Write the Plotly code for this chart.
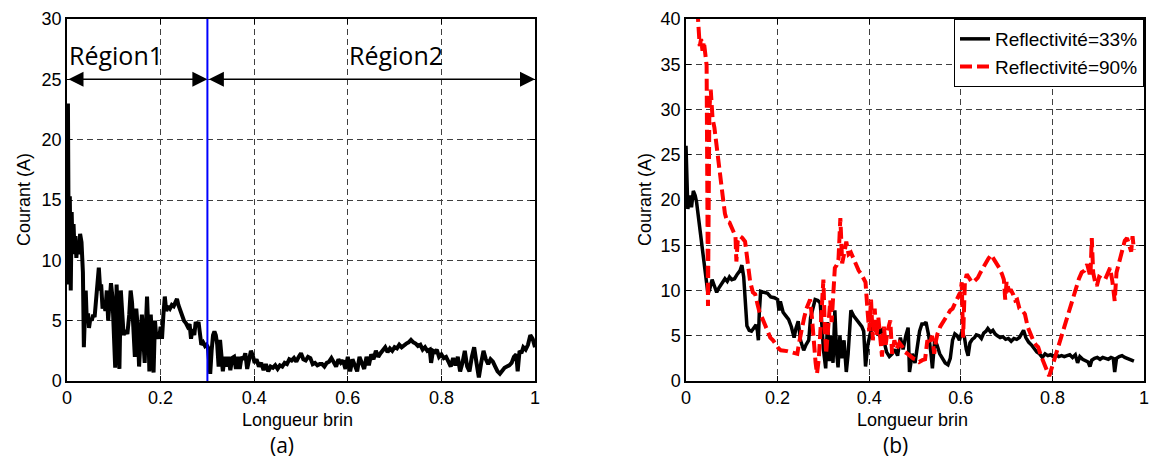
import plotly.graph_objects as go

# ---------------- data: panel (a) ----------------
a_x = [0.000, 0.002, 0.004, 0.006, 0.008, 0.010, 0.012, 0.014, 0.016, 0.018, 0.020, 0.022, 0.025, 0.028,
       0.031, 0.034, 0.036, 0.038, 0.040, 0.042, 0.045, 0.047, 0.050, 0.053, 0.056, 0.059, 0.062, 0.065,
       0.068, 0.071, 0.073, 0.076, 0.079, 0.082, 0.085, 0.088, 0.091, 0.094, 0.097, 0.100, 0.103, 0.106,
       0.109, 0.112, 0.115, 0.118, 0.121, 0.125, 0.129, 0.133, 0.136, 0.139, 0.142, 0.145, 0.148, 0.151,
       0.154, 0.157, 0.160, 0.163, 0.166, 0.169, 0.171, 0.174, 0.176, 0.179, 0.182, 0.185, 0.188, 0.191,
       0.194, 0.197, 0.200, 0.203, 0.206, 0.209, 0.212, 0.216, 0.220, 0.224, 0.228, 0.232, 0.235, 0.238,
       0.242, 0.246, 0.250, 0.254, 0.258, 0.262, 0.265, 0.268, 0.272, 0.275, 0.278, 0.281, 0.284, 0.287,
       0.291, 0.295, 0.298, 0.301, 0.304, 0.306, 0.309, 0.312, 0.315, 0.318, 0.321, 0.324, 0.327, 0.330,
       0.333, 0.337, 0.341, 0.345, 0.349, 0.353, 0.357, 0.361, 0.365, 0.369, 0.373, 0.377, 0.381, 0.385,
       0.389, 0.393, 0.397, 0.401, 0.405, 0.410, 0.415, 0.420, 0.425, 0.430, 0.435, 0.440, 0.445, 0.450,
       0.455, 0.460, 0.465, 0.470, 0.475, 0.480, 0.485, 0.490, 0.495, 0.500, 0.505, 0.510, 0.515, 0.520,
       0.525, 0.530, 0.535, 0.540, 0.545, 0.550, 0.555, 0.560, 0.565, 0.570, 0.575, 0.580, 0.585, 0.590,
       0.595, 0.600, 0.605, 0.610, 0.615, 0.620, 0.625, 0.630, 0.635, 0.640, 0.645, 0.650, 0.655, 0.660,
       0.665, 0.670, 0.675, 0.680, 0.685, 0.690, 0.695, 0.700, 0.705, 0.710, 0.715, 0.720, 0.725, 0.730,
       0.735, 0.740, 0.745, 0.750, 0.755, 0.760, 0.765, 0.770, 0.775, 0.778, 0.782, 0.786, 0.790, 0.795,
       0.800, 0.805, 0.810, 0.815, 0.820, 0.825, 0.830, 0.835, 0.840, 0.845, 0.850, 0.855, 0.860, 0.865,
       0.870, 0.875, 0.880, 0.885, 0.890, 0.895, 0.900, 0.905, 0.910, 0.915, 0.920, 0.925, 0.930, 0.935,
       0.940, 0.945, 0.950, 0.955, 0.960, 0.963, 0.967, 0.971, 0.975, 0.980, 0.985, 0.990, 0.995, 1.000]
a_y = [12.0, 23.0, 8.0, 15.3, 7.5, 14.0, 10.5, 13.0, 10.8, 12.0, 10.2, 11.5, 10.5, 12.2,
       11.5, 9.0, 2.8, 5.5, 7.5, 5.3, 5.6, 4.4, 5.2, 5.0, 5.5, 5.3, 6.5, 8.0,
       9.4, 7.5, 8.0, 6.0, 6.5, 5.8, 7.5, 5.0, 6.5, 8.1, 7.0, 4.0, 1.1, 8.0,
       4.5, 1.0, 7.5, 5.0, 3.8, 4.2, 3.9, 5.5, 7.5, 6.5, 4.0, 2.0, 6.0, 4.5,
       1.2, 3.0, 5.5, 3.5, 1.5, 5.0, 7.0, 4.0, 0.8, 5.5, 3.0, 0.7, 5.0, 3.5,
       4.0, 3.5, 4.5, 3.5, 5.5, 7.0, 5.8, 6.2, 6.0, 6.3, 6.2, 6.5, 6.8, 6.3,
       5.8, 5.5, 5.0, 4.8, 4.5, 4.7, 3.5, 4.3, 3.8, 4.9, 4.5, 4.9, 3.5, 3.0,
       3.2, 2.9, 3.0, 2.8, 1.5, 0.6, 2.5, 3.8, 4.1, 3.8, 3.0, 1.2, 3.4, 1.5,
       0.8, 2.0, 1.2, 2.0, 0.9, 1.9, 2.0, 1.0, 2.0, 1.0, 2.0, 1.8, 2.3, 1.0,
       2.0, 2.5, 2.1, 1.5, 1.8, 1.2, 1.5, 0.9, 1.4, 0.8, 1.2, 1.1, 1.3, 1.0,
       1.3, 1.2, 1.5, 1.4, 1.8, 1.7, 1.9, 1.6, 2.0, 2.3, 1.8, 1.7, 2.0, 1.9,
       1.4, 1.5, 1.3, 1.4, 1.4, 1.2, 1.5, 1.6, 1.9, 1.5, 1.2, 1.8, 1.5, 1.7,
       1.0, 2.0, 0.8, 1.8, 1.3, 0.8, 2.0, 1.5, 1.0, 2.0, 1.3, 2.2, 1.8, 2.5,
       2.0, 2.3, 2.6, 2.8, 2.4, 2.7, 2.5, 2.8, 2.7, 3.0, 2.8, 3.0, 3.1, 3.2,
       3.4, 3.2, 3.1, 2.9, 3.0, 2.6, 2.8, 2.5, 2.6, 1.5, 2.5, 2.4, 2.6, 2.0,
       2.2, 1.9, 2.0, 1.6, 1.2, 1.9, 1.3, 2.0, 0.8, 1.5, 2.5, 1.2, 0.8, 2.0,
       2.8, 1.5, 0.3, 1.5, 2.5, 1.8, 1.4, 1.8, 1.6, 1.2, 0.8, 0.6, 0.9, 1.1,
       1.2, 1.3, 1.5, 2.0, 2.2, 0.8, 2.5, 2.3, 2.8, 2.6, 3.0, 3.8, 3.5, 2.8]

# ---------------- data: panel (b) ----------------
b33_x = [0.000, 0.004, 0.008, 0.012, 0.016, 0.020, 0.023, 0.048, 0.052, 0.057, 0.062, 0.067, 0.072, 0.078,
         0.085, 0.090, 0.095, 0.100, 0.106, 0.112, 0.118, 0.122, 0.126, 0.133, 0.138, 0.143, 0.148, 0.153,
         0.156, 0.158, 0.160, 0.163, 0.170, 0.178, 0.185, 0.193, 0.200, 0.203, 0.206, 0.212, 0.218, 0.224,
         0.230, 0.236, 0.240, 0.245, 0.250, 0.254, 0.257, 0.262, 0.268, 0.272, 0.277, 0.282, 0.288, 0.293,
         0.297, 0.300, 0.305, 0.309, 0.313, 0.317, 0.321, 0.325, 0.329, 0.332, 0.336, 0.340, 0.345, 0.350,
         0.354, 0.360, 0.366, 0.372, 0.378, 0.384, 0.388, 0.392, 0.397, 0.402, 0.408, 0.414, 0.420, 0.426,
         0.432, 0.438, 0.444, 0.450, 0.456, 0.462, 0.468, 0.474, 0.480, 0.485, 0.488, 0.494, 0.500, 0.505,
         0.510, 0.515, 0.520, 0.524, 0.530, 0.535, 0.538, 0.543, 0.548, 0.554, 0.560, 0.566, 0.572, 0.577,
         0.582, 0.587, 0.592, 0.597, 0.602, 0.608, 0.612, 0.616, 0.620, 0.625, 0.630, 0.634, 0.640, 0.645,
         0.650, 0.655, 0.659, 0.665, 0.670, 0.675, 0.680, 0.686, 0.692, 0.698, 0.704, 0.710, 0.716, 0.722,
         0.728, 0.733, 0.737, 0.742, 0.748, 0.754, 0.760, 0.766, 0.772, 0.778, 0.784, 0.790, 0.796, 0.802,
         0.808, 0.814, 0.820, 0.826, 0.832, 0.838, 0.844, 0.850, 0.855, 0.860, 0.866, 0.872, 0.878, 0.882,
         0.886, 0.892, 0.898, 0.904, 0.910, 0.916, 0.922, 0.928, 0.933, 0.936, 0.940, 0.946, 0.952, 0.958,
         0.964, 0.970, 0.976, 0.978]
b33_y = [26.0, 19.0, 20.5, 19.2, 21.0, 20.5, 19.8, 9.6, 10.2, 11.2, 10.5, 9.8, 10.3, 10.8,
         11.3, 11.0, 11.5, 11.2, 11.3, 11.8, 12.2, 12.8, 11.5, 6.1, 5.6, 5.5, 5.8, 6.2,
         5.5, 4.5, 7.5, 9.9, 9.8, 9.7, 9.3, 9.2, 9.0, 7.8, 8.8, 7.6, 7.2, 6.8,
         6.0, 4.8, 5.8, 6.6, 4.5, 4.0, 3.4, 4.0, 4.5, 7.0, 8.2, 9.0, 8.9, 8.6,
         6.0, 3.5, 1.4, 6.5, 2.2, 5.0, 2.0, 7.8, 3.0, 1.5, 5.0, 2.5, 4.5, 1.0,
         3.0, 7.8, 7.2, 6.8, 6.4, 6.0, 5.5, 1.6, 4.0, 5.2, 6.0, 5.6, 5.2, 5.8,
         4.5, 3.2, 2.7, 3.0, 3.5, 2.8, 4.8, 3.5, 5.0, 5.9, 1.0, 3.0, 2.0, 4.0,
         5.5, 6.3, 6.3, 6.5, 5.0, 3.0, 1.4, 4.5, 4.0, 3.0, 2.4, 2.0, 1.8, 2.5,
         4.5, 5.2, 5.0, 4.5, 5.4, 4.8, 3.5, 2.8, 4.2, 4.6, 4.8, 5.1, 5.0, 4.7,
         5.3, 5.5, 5.8, 5.4, 5.6, 5.2, 5.0, 4.8, 4.9, 4.6, 4.7, 4.4, 4.7, 4.6,
         4.8, 5.2, 5.6, 4.8, 4.3, 4.0, 3.6, 3.2, 3.0, 2.6, 3.0, 2.8, 2.9, 2.7,
         2.9, 2.7, 2.8, 2.7, 2.8, 2.9, 2.6, 2.9, 2.0, 2.7, 2.4, 2.2, 2.1, 1.6,
         2.3, 2.5, 2.6, 2.4, 2.6, 2.5, 2.4, 2.6, 2.5, 1.0, 2.5, 2.7, 2.8, 2.6,
         2.5, 2.4, 2.3, 2.2]

b90_x = [0.025, 0.030, 0.033, 0.036, 0.039, 0.042, 0.045, 0.048, 0.051, 0.054, 0.058, 0.062, 0.066, 0.070,
         0.075, 0.080, 0.085, 0.090, 0.095, 0.100, 0.105, 0.108, 0.110, 0.113, 0.118, 0.123, 0.129, 0.134,
         0.140, 0.146, 0.151, 0.156, 0.161, 0.166, 0.172, 0.178, 0.184, 0.190, 0.196, 0.202, 0.207, 0.214,
         0.221, 0.228, 0.235, 0.243, 0.248, 0.253, 0.258, 0.263, 0.268, 0.271, 0.275, 0.279, 0.283, 0.286,
         0.290, 0.294, 0.298, 0.300, 0.303, 0.306, 0.309, 0.312, 0.315, 0.318, 0.321, 0.325, 0.329, 0.333,
         0.337, 0.341, 0.345, 0.350, 0.355, 0.360, 0.366, 0.371, 0.377, 0.383, 0.388, 0.392, 0.396, 0.400,
         0.404, 0.408, 0.412, 0.416, 0.420, 0.424, 0.428, 0.432, 0.436, 0.440, 0.446, 0.450, 0.455, 0.460,
         0.466, 0.472, 0.478, 0.484, 0.490, 0.496, 0.502, 0.509, 0.516, 0.522, 0.527, 0.532, 0.537, 0.542,
         0.546, 0.549, 0.555, 0.561, 0.567, 0.572, 0.577, 0.582, 0.587, 0.592, 0.595, 0.598, 0.602, 0.605,
         0.609, 0.613, 0.618, 0.623, 0.627, 0.632, 0.637, 0.643, 0.648, 0.654, 0.660, 0.666, 0.672, 0.678,
         0.684, 0.690, 0.694, 0.697, 0.700, 0.705, 0.710, 0.715, 0.719, 0.723, 0.728, 0.734, 0.740, 0.746,
         0.752, 0.758, 0.764, 0.769, 0.775, 0.781, 0.787, 0.793, 0.799, 0.805, 0.811, 0.819, 0.826, 0.833,
         0.840, 0.846, 0.851, 0.858, 0.864, 0.870, 0.876, 0.880, 0.883, 0.886, 0.889, 0.893, 0.897, 0.902,
         0.908, 0.915, 0.920, 0.926, 0.931, 0.936, 0.940, 0.945, 0.950, 0.954, 0.958, 0.963, 0.968, 0.972,
         0.975, 0.978]
b90_y = [41.0, 37.0, 37.8, 36.5, 37.5, 36.0, 34.9, 8.3, 30.0, 32.2, 29.0, 28.0, 26.5, 25.0,
         23.0, 20.5, 18.5, 17.6, 17.5, 16.8, 16.3, 16.0, 13.2, 15.5, 16.0, 15.8, 15.4, 13.0,
         11.0, 9.8, 9.6, 8.5, 7.5, 7.0, 6.3, 5.5, 4.8, 4.5, 4.0, 3.6, 3.4, 3.4,
         3.3, 3.2, 3.1, 3.0, 4.5, 6.0, 7.0, 8.0, 8.8, 9.0, 7.0, 4.0, 2.0, 0.8,
         2.5, 6.0, 10.0, 11.2, 6.0, 3.0, 5.0, 7.0, 8.9, 6.5, 10.0, 12.5, 12.8, 13.5,
         18.0, 13.0, 14.0, 15.4, 14.0, 14.2, 13.5, 12.9, 12.2, 11.8, 11.3, 10.9, 8.0, 5.5,
         9.0, 4.5, 8.0, 5.0, 7.0, 4.5, 2.7, 6.0, 4.0, 5.5, 6.7, 3.0, 4.5, 3.5,
         4.2, 3.8, 3.2, 3.0, 2.7, 2.5, 2.4, 2.1, 2.3, 2.4, 4.5, 4.0, 5.0, 3.0,
         4.5, 5.2, 6.0, 6.5, 7.0, 7.3, 7.8, 8.0, 8.6, 9.0, 9.4, 9.2, 10.9, 4.8,
         11.0, 11.8, 11.4, 11.0, 10.9, 11.2, 11.4, 12.0, 12.5, 13.0, 13.5, 13.95, 13.5, 13.0,
         12.5, 11.8, 11.2, 9.0, 11.0, 10.0, 10.0, 9.5, 8.9, 9.0, 8.0, 7.8, 7.4, 6.0,
         5.2, 4.5, 4.0, 3.75, 2.8, 2.0, 1.2, 0.55, 1.5, 2.5, 3.5, 4.7, 6.0, 7.2,
         8.4, 9.5, 10.3, 11.3, 12.0, 12.2, 12.9, 12.0, 11.5, 15.8, 12.0, 11.0, 10.5, 11.5,
         11.3, 11.2, 11.8, 12.5, 11.0, 8.85, 12.0, 13.0, 14.0, 15.0, 15.5, 15.8, 15.0, 14.3,
         16.0, 14.5]

series_names = ["Reflectivité=33%", "Reflectivité=90%"]
region_labels = ["Région1", "Région2"]
region_bounds = [0.0, 0.3, 1.0]
arrow_level = 25
panel_labels = ["(a)", "(b)"]
x_title = "Longueur brin"
y_title = "Courant (A)"
x_tickvals = [0, 0.2, 0.4, 0.6, 0.8, 1]
x_ticktext = ["0", "0.2", "0.4", "0.6", "0.8", "1"]

# ---------------- layout geometry ----------------
# page body has an 8px margin on every side; keep the figure inside the window
OFF = 8
W, H = 1158 - 2 * OFF, 470 - 2 * OFF
def px(x):
    return (x - OFF) / W
def py(y):
    return 1 - (y - OFF) / H

TOP, BOT = 19, 381
RIGHT2 = 1144
TICKFONT = dict(family="Liberation Sans, Arial", size=18, color="black")
LABFONT = dict(family="Open Sans", size=21, color="black")
REGFONT = dict(family="Open Sans", size=25, color="black")

fig = go.Figure()
fig.add_trace(go.Scatter(x=a_x, y=a_y, mode="lines", line=dict(color="black", width=4),
                         showlegend=False, xaxis="x", yaxis="y"))
fig.add_trace(go.Scatter(x=b33_x, y=b33_y, mode="lines", name=series_names[0],
                         line=dict(color="black", width=3.5), xaxis="x2", yaxis="y2"))
fig.add_trace(go.Scatter(x=b90_x, y=b90_y, mode="lines", name=series_names[1],
                         line=dict(color="#ff0000", width=4, dash="12px,5px"), xaxis="x2", yaxis="y2"))

axis_common = dict(showline=True, linecolor="black", linewidth=1.5, mirror="ticks",
                   ticks="inside", ticklen=5, tickcolor="black", tickwidth=1,
                   showgrid=True, gridcolor="#404040", gridwidth=1, griddash="6px,4px",
                   zeroline=False, tickfont=TICKFONT, ticklabeloverflow="allow")
xtick = dict(tickmode="array", tickvals=x_tickvals, ticktext=x_ticktext)
# on panel (b) the last label is drawn as an annotation so it is not dropped at the edge
xtick2 = dict(tickmode="array", tickvals=x_tickvals, ticktext=x_ticktext[:-1] + [""])

fig.update_layout(
    width=W, height=H,
    margin=dict(l=0, r=0, t=0, b=0, autoexpand=False),
    paper_bgcolor="white", plot_bgcolor="white",
    xaxis=dict(domain=[px(67), px(535)], range=[0, 1], anchor="y", **xtick, **axis_common),
    yaxis=dict(domain=[py(BOT), py(TOP)], range=[0, 30], dtick=5, anchor="x", **axis_common),
    xaxis2=dict(domain=[px(686), px(RIGHT2)], range=[0, 1], anchor="y2", **xtick2, **axis_common),
    yaxis2=dict(domain=[py(BOT), py(TOP)], range=[0, 40], dtick=5, anchor="x2", **axis_common),
    legend=dict(x=px(RIGHT2), xanchor="right", y=py(TOP), yanchor="top",
                bgcolor="white", bordercolor="black", borderwidth=1,
                font=dict(family="Liberation Sans, Arial", size=19, color="black"),
                tracegroupgap=0),
    showlegend=True,
)

# last tick label of panel (b)
fig.add_annotation(xref="x2", yref="paper", x=x_tickvals[-1], y=py(398), text=x_ticktext[-1],
                   showarrow=False, xanchor="center", yanchor="middle", font=TICKFONT)

# blue separator
fig.add_shape(type="line", xref="x", yref="y", x0=region_bounds[1], x1=region_bounds[1],
              y0=0, y1=30, line=dict(color="#0000ff", width=2))

# double arrows
for i in range(2):
    fig.add_annotation(xref="x", yref="y", axref="x", ayref="y",
                       x=region_bounds[i + 1], y=arrow_level,
                       ax=region_bounds[i], ay=arrow_level,
                       text="", showarrow=True, arrowside="end+start",
                       arrowhead=2, startarrowhead=2, arrowsize=2, startarrowsize=2,
                       arrowwidth=1.5, arrowcolor="black", standoff=0, startstandoff=0)

fig.add_annotation(xref="x", yref="y", x=0.0, y=27.0, text=region_labels[0], showarrow=False,
                   xanchor="left", yanchor="middle", font=REGFONT)
fig.add_annotation(xref="x", yref="y", x=0.704, y=27.0, text=region_labels[1], showarrow=False,
                   xanchor="center", yanchor="middle", font=REGFONT)

# axis titles and panel labels
for cx in [297, 912]:
    fig.add_annotation(xref="paper", yref="paper", x=px(cx), y=py(420), text=x_title, showarrow=False,
                       xanchor="center", yanchor="middle", font=TICKFONT)
for cx in [24, 645]:
    fig.add_annotation(xref="paper", yref="paper", x=px(cx), y=py(200), text=y_title, showarrow=False,
                       textangle=-90, xanchor="center", yanchor="middle", font=TICKFONT)
for cx, lab in zip([282, 895], panel_labels):
    fig.add_annotation(xref="paper", yref="paper", x=px(cx), y=py(445), text=lab, showarrow=False,
                       xanchor="center", yanchor="middle", font=LABFONT)

fig.write_html("out.html")
